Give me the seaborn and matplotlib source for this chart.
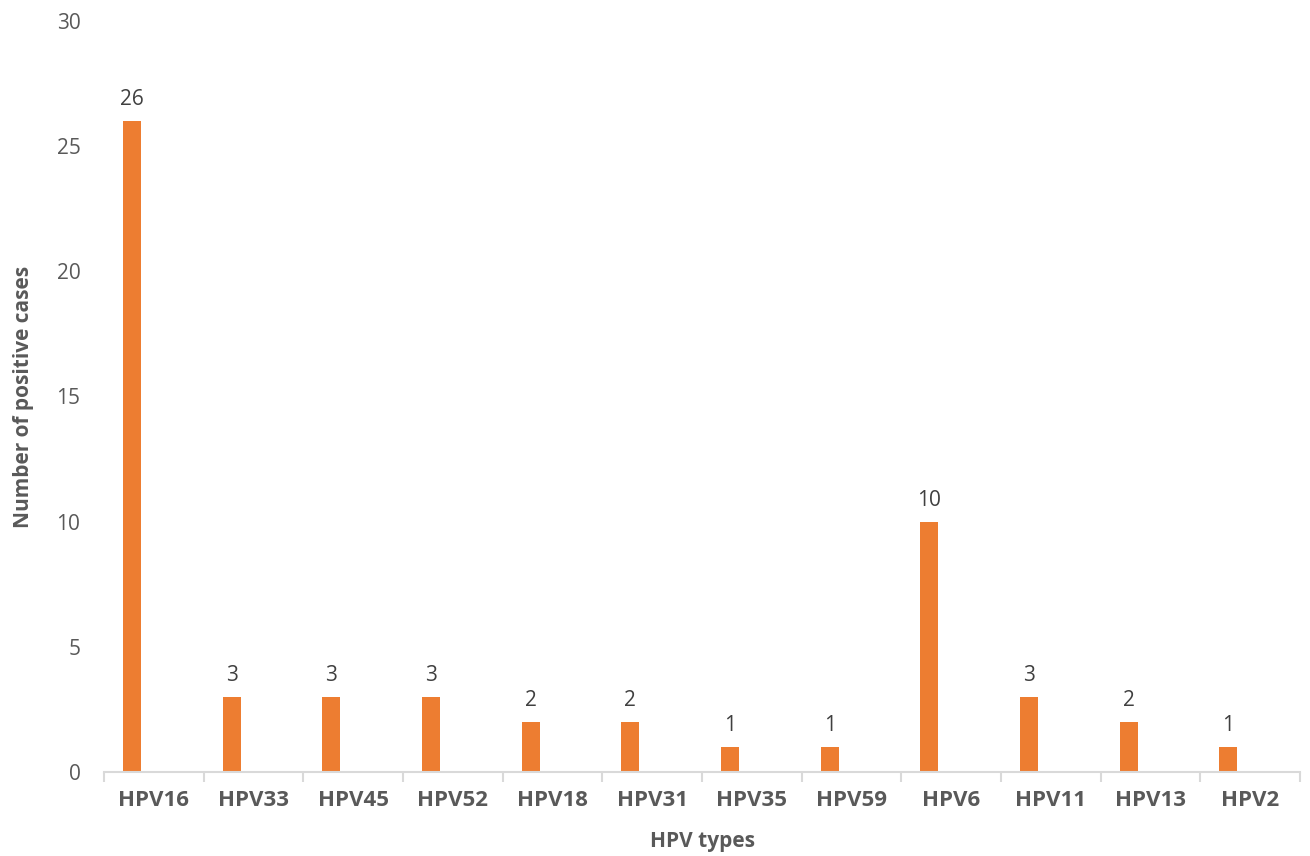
import numpy as np
import pandas as pd
import matplotlib
matplotlib.use("Agg")
import matplotlib.pyplot as plt
import seaborn as sns

hpv_types = ["HPV16", "HPV33", "HPV45", "HPV52", "HPV18", "HPV31",
             "HPV35", "HPV59", "HPV6", "HPV11", "HPV13", "HPV2"]
positive_cases = [26, 3, 3, 3, 2, 2, 1, 1, 10, 3, 2, 1]
y_ticks = [0, 5, 10, 15, 20, 25, 30]

sns.set_theme(style="white")
plt.rcParams["font.family"] = ["Open Sans", "DejaVu Sans"]

text_color = "#595959"
bar_color = "#ED7D31"
axis_color = "#D9D9D9"

# each bar sits in the left part of its category slot
slot = np.arange(len(hpv_types))
df = pd.DataFrame({"pos": slot - 0.22, "cases": positive_cases})

fig = plt.figure(figsize=(13.1, 8.56), dpi=100)
ax = fig.add_axes([104 / 1310, 84 / 856, (1300 - 104) / 1310, (772 - 21) / 856])

sns.barplot(data=df, x="pos", y="cases", native_scale=True, width=0.18,
            color=bar_color, saturation=1, ax=ax, linewidth=0)

for p, v in zip(ax.patches, positive_cases):
    ax.annotate(f"{v}", (p.get_x() + p.get_width() / 2, p.get_height()),
                xytext=(0, 8), textcoords="offset points",
                ha="center", va="bottom", fontsize=15, color="#404040")

ax.set_xlim(-0.5, len(hpv_types) - 0.5)
ax.set_ylim(0, 30)
ax.set_yticks(y_ticks)
ax.set_yticklabels([str(t) for t in y_ticks], fontsize=15, color=text_color)
ax.set_xticks(slot)
ax.set_xticklabels(hpv_types, fontsize=16, fontweight="bold", color=text_color)
ax.set_xticks(np.arange(len(hpv_types) + 1) - 0.5, minor=True)
ax.tick_params(axis="x", which="major", length=0, pad=13)
ax.tick_params(axis="x", which="minor", length=7, color=axis_color, width=1.5,
               direction="out", bottom=True)
ax.tick_params(axis="y", length=0, pad=17)

for side in ["top", "right", "left"]:
    ax.spines[side].set_visible(False)
ax.spines["bottom"].set_color(axis_color)
ax.spines["bottom"].set_linewidth(1.5)

ax.set_xlabel("HPV types", fontsize=15, fontweight="bold", color=text_color, labelpad=14)
ax.set_ylabel("Number of positive cases", fontsize=15, fontweight="bold",
              color=text_color, labelpad=16)

fig.savefig("out.png", dpi=100)
